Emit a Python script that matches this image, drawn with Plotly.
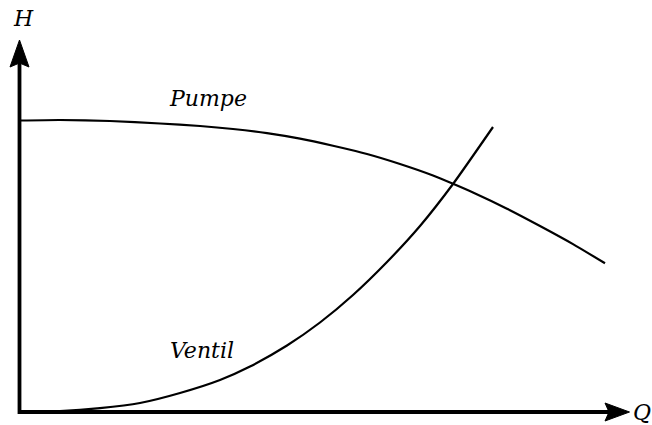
import plotly.graph_objects as go

# Pumpe curve (Q, H)
pumpe_q = [0, 40.5, 90.5, 140.5, 180.5, 213.5, 247.5, 280.5, 313.5, 347.5, 380.5, 413.5, 433.5, 453.5, 487.5, 520.5, 553.5, 585.5]
pumpe_h = [291.5, 292, 291, 288.5, 286, 283, 278.8, 273.3, 266.2, 258, 248, 236.5, 228.2, 219.5, 203.3, 186, 167.9, 148.7]

# Ventil curve (Q, H)
ventil_q = [0, 40.5, 80.5, 120.5, 160.5, 200.5, 230.5, 267.5, 300.5, 333.5, 367.5, 400.5, 433.5, 473.5]
ventil_h = [0, 0.8, 3.8, 9, 19, 32, 45.5, 66.5, 89.5, 117, 150, 186, 228, 285]

labels = {"H": "H", "Q": "Q", "pumpe": "Pumpe", "ventil": "Ventil"}

FONT = dict(family="DejaVu Serif", size=22, color="black", style="italic")

fig = go.Figure()
fig.add_trace(go.Scatter(x=pumpe_q, y=pumpe_h, mode="lines",
                         line=dict(color="black", width=2.2, shape="spline", smoothing=0.6),
                         hoverinfo="skip", showlegend=False))
fig.add_trace(go.Scatter(x=ventil_q, y=ventil_h, mode="lines",
                         line=dict(color="black", width=2.2, shape="spline", smoothing=0.6),
                         hoverinfo="skip", showlegend=False))

# axes with arrow heads
fig.add_shape(type="path", path="M 0,352 L 0,0 L 592,0", line=dict(color="black", width=3.8),
              xref="x", yref="y", layer="above")
fig.add_shape(type="path", path="M 0,372 L 9.5,345 L 0,349 L -9.5,345 Z",
              fillcolor="black", line=dict(color="black", width=1), xref="x", yref="y")
fig.add_shape(type="path", path="M 610,0 L 585.5,9 L 589.5,0 L 585.5,-9 Z",
              fillcolor="black", line=dict(color="black", width=1), xref="x", yref="y")

fig.add_annotation(x=3.5, y=393.5, text=labels["H"], showarrow=False, font=FONT,
                   xanchor="center", yanchor="middle")
fig.add_annotation(x=611, y=0, text=labels["Q"], showarrow=False, font=FONT,
                   xanchor="left", yanchor="middle")
fig.add_annotation(x=188.5, y=314, text=labels["pumpe"], showarrow=False, font=FONT,
                   xanchor="center", yanchor="middle")
fig.add_annotation(x=182.5, y=62, text=labels["ventil"], showarrow=False, font=FONT,
                   xanchor="center", yanchor="middle")

# origin at page pixel (19.5, 412), 1 data unit = 1 px
fig.update_xaxes(range=[-19.5, 632.5], visible=False, fixedrange=True)
fig.update_yaxes(range=[-13, 412], visible=False, fixedrange=True)
fig.update_layout(width=652, height=425, margin=dict(l=0, r=0, t=0, b=0),
                  plot_bgcolor="white", paper_bgcolor="white")

fig.write_html("out.html", config={"displayModeBar": False},
               post_script="document.body.style.margin='0px';document.body.style.overflow='hidden';")
